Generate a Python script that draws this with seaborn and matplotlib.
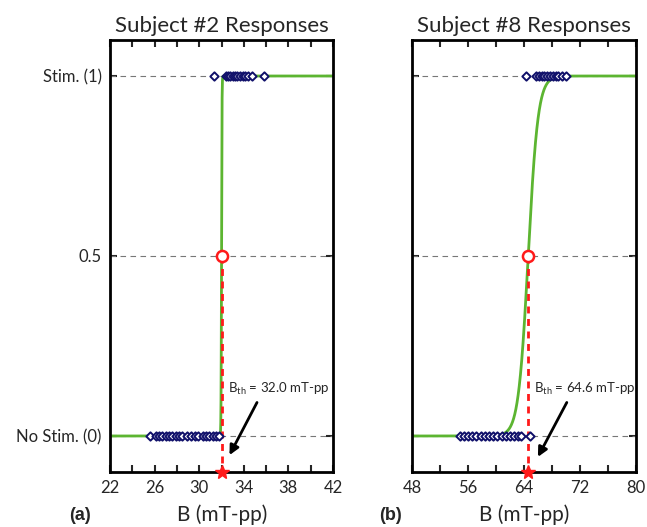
import numpy as np
import pandas as pd
import matplotlib
matplotlib.use("Agg")
import matplotlib.pyplot as plt
import seaborn as sns

# responses (B in mT-pp)
s2_nostim = [25.6, 26.1, 26.4, 26.7, 27.0, 27.3, 27.6, 27.9, 28.2, 28.5, 28.9,
             29.3, 29.6, 29.9, 30.3, 30.6, 30.9, 31.2, 31.5, 31.8]
s2_stim = [31.3, 32.4, 32.6, 32.8, 33.0, 33.2, 33.4, 33.7, 33.9, 34.1, 34.4, 34.7, 35.8]
s8_nostim = [54.8, 55.4, 56.0, 56.6, 57.2, 57.8, 58.4, 59.0, 59.6, 60.2, 60.8,
             61.4, 62.0, 62.6, 63.1, 63.6, 64.9]
s8_stim = [64.3, 65.7, 66.1, 66.5, 66.9, 67.3, 67.7, 68.1, 68.5, 68.9, 69.4, 70.0]

# fitted psychometric curves: threshold and slope
s2_thresh, s2_scale = 32.0, 0.02
s8_thresh, s8_scale = 64.6, 0.7

ytick_vals = [0, 0.5, 1]
ytick_labels = ["No Stim. (0)", "0.5", "Stim. (1)"]

sns.set_style("ticks")
plt.rcParams["font.family"] = ["Lato", "DejaVu Sans"]
plt.rcParams["mathtext.fontset"] = "custom"
plt.rcParams["mathtext.rm"] = "Lato"
plt.rcParams["mathtext.it"] = "Lato"

green = "#5cb531"
navy = "#10106a"
red = "#ff1a1a"

fig = plt.figure(figsize=(6.47, 5.27), dpi=100)
ax1 = fig.add_axes([110 / 647, 55 / 527, 223 / 647, 432 / 527])
ax2 = fig.add_axes([412 / 647, 55 / 527, 224 / 647, 432 / 527])


def panel(ax, nostim, stim, thresh, scale, xlim, xstep, lstep, title, txt_xy, arrow_from, arrow_to):
    for yv in ytick_vals:
        ax.axhline(yv, color="#777777", lw=0.8, ls=(0, (5, 4)), zorder=1)
    xs = np.linspace(xlim[0], xlim[1], 2000)
    curve = pd.DataFrame({"B": xs, "p": 1 / (1 + np.exp(-(xs - thresh) / scale))})
    sns.lineplot(data=curve, x="B", y="p", ax=ax, color=green, lw=2, zorder=2)
    pts = pd.DataFrame({"B": nostim + stim, "r": [0] * len(nostim) + [1] * len(stim)})
    sns.scatterplot(data=pts, x="B", y="r", ax=ax, marker="D", s=18,
                    facecolor="white", edgecolor=navy, linewidth=1.4, zorder=4)
    ax.plot([thresh, thresh], [0.5, -0.1], color=red, lw=2, ls=(0, (2.5, 2)), zorder=3, clip_on=False)
    ax.plot([thresh], [0.5], "o", ms=8, mfc="white", mec=red, mew=1.8, zorder=5)
    ax.plot([thresh], [-0.1], "*", ms=10, color=red, zorder=6, clip_on=False)
    ax.annotate("", xy=arrow_to, xytext=arrow_from,
                arrowprops=dict(arrowstyle="-|>", color="black", lw=2, mutation_scale=14))
    ax.text(txt_xy[0], txt_xy[1], r"B$_{\rm th}$ = %.1f mT-pp" % thresh, fontsize=9.5,
            ha="left", va="center", zorder=7)
    ax.set_xlim(xlim)
    ax.set_ylim(-0.1, 1.1)
    ticks = np.arange(xlim[0], xlim[1] + 0.1, xstep)
    ax.set_xticks(ticks)
    ax.set_xticklabels([str(int(t)) if (t - xlim[0]) % lstep == 0 else "" for t in ticks])
    ax.set_yticks(ytick_vals)
    ax.set_xlabel("")
    ax.set_ylabel("")
    ax.set_title(title, fontsize=16, pad=6)
    ax.tick_params(direction="in", length=5, width=1.5, top=True, right=True,
                   labelsize=12, pad=6)
    for sp in ax.spines.values():
        sp.set_visible(True)
        sp.set_linewidth(2)
        sp.set_color("black")


panel(ax1, s2_nostim, s2_stim, s2_thresh, s2_scale, (22, 42), 2, 4,
      "Subject #2 Responses", (32.6, 0.13), (35.3, 0.1), (32.6, -0.06))
panel(ax2, s8_nostim, s8_stim, s8_thresh, s8_scale, (48, 80), 4, 8,
      "Subject #8 Responses", (65.4, 0.13), (70.3, 0.1), (65.8, -0.065))

ax1.set_yticklabels(ytick_labels)
ax2.set_yticklabels([])

fig.text(80 / 647, 1 - 515 / 527, "(a)", fontsize=13, fontweight="bold", ha="center", va="center",
         family=["Liberation Sans"])
fig.text(222 / 647, 1 - 515 / 527, "B (mT-pp)", fontsize=15, ha="center", va="center")
fig.text(390 / 647, 1 - 515 / 527, "(b)", fontsize=13, fontweight="bold", ha="center", va="center",
         family=["Liberation Sans"])
fig.text(524 / 647, 1 - 515 / 527, "B (mT-pp)", fontsize=15, ha="center", va="center")

fig.savefig("out.png", dpi=100)
